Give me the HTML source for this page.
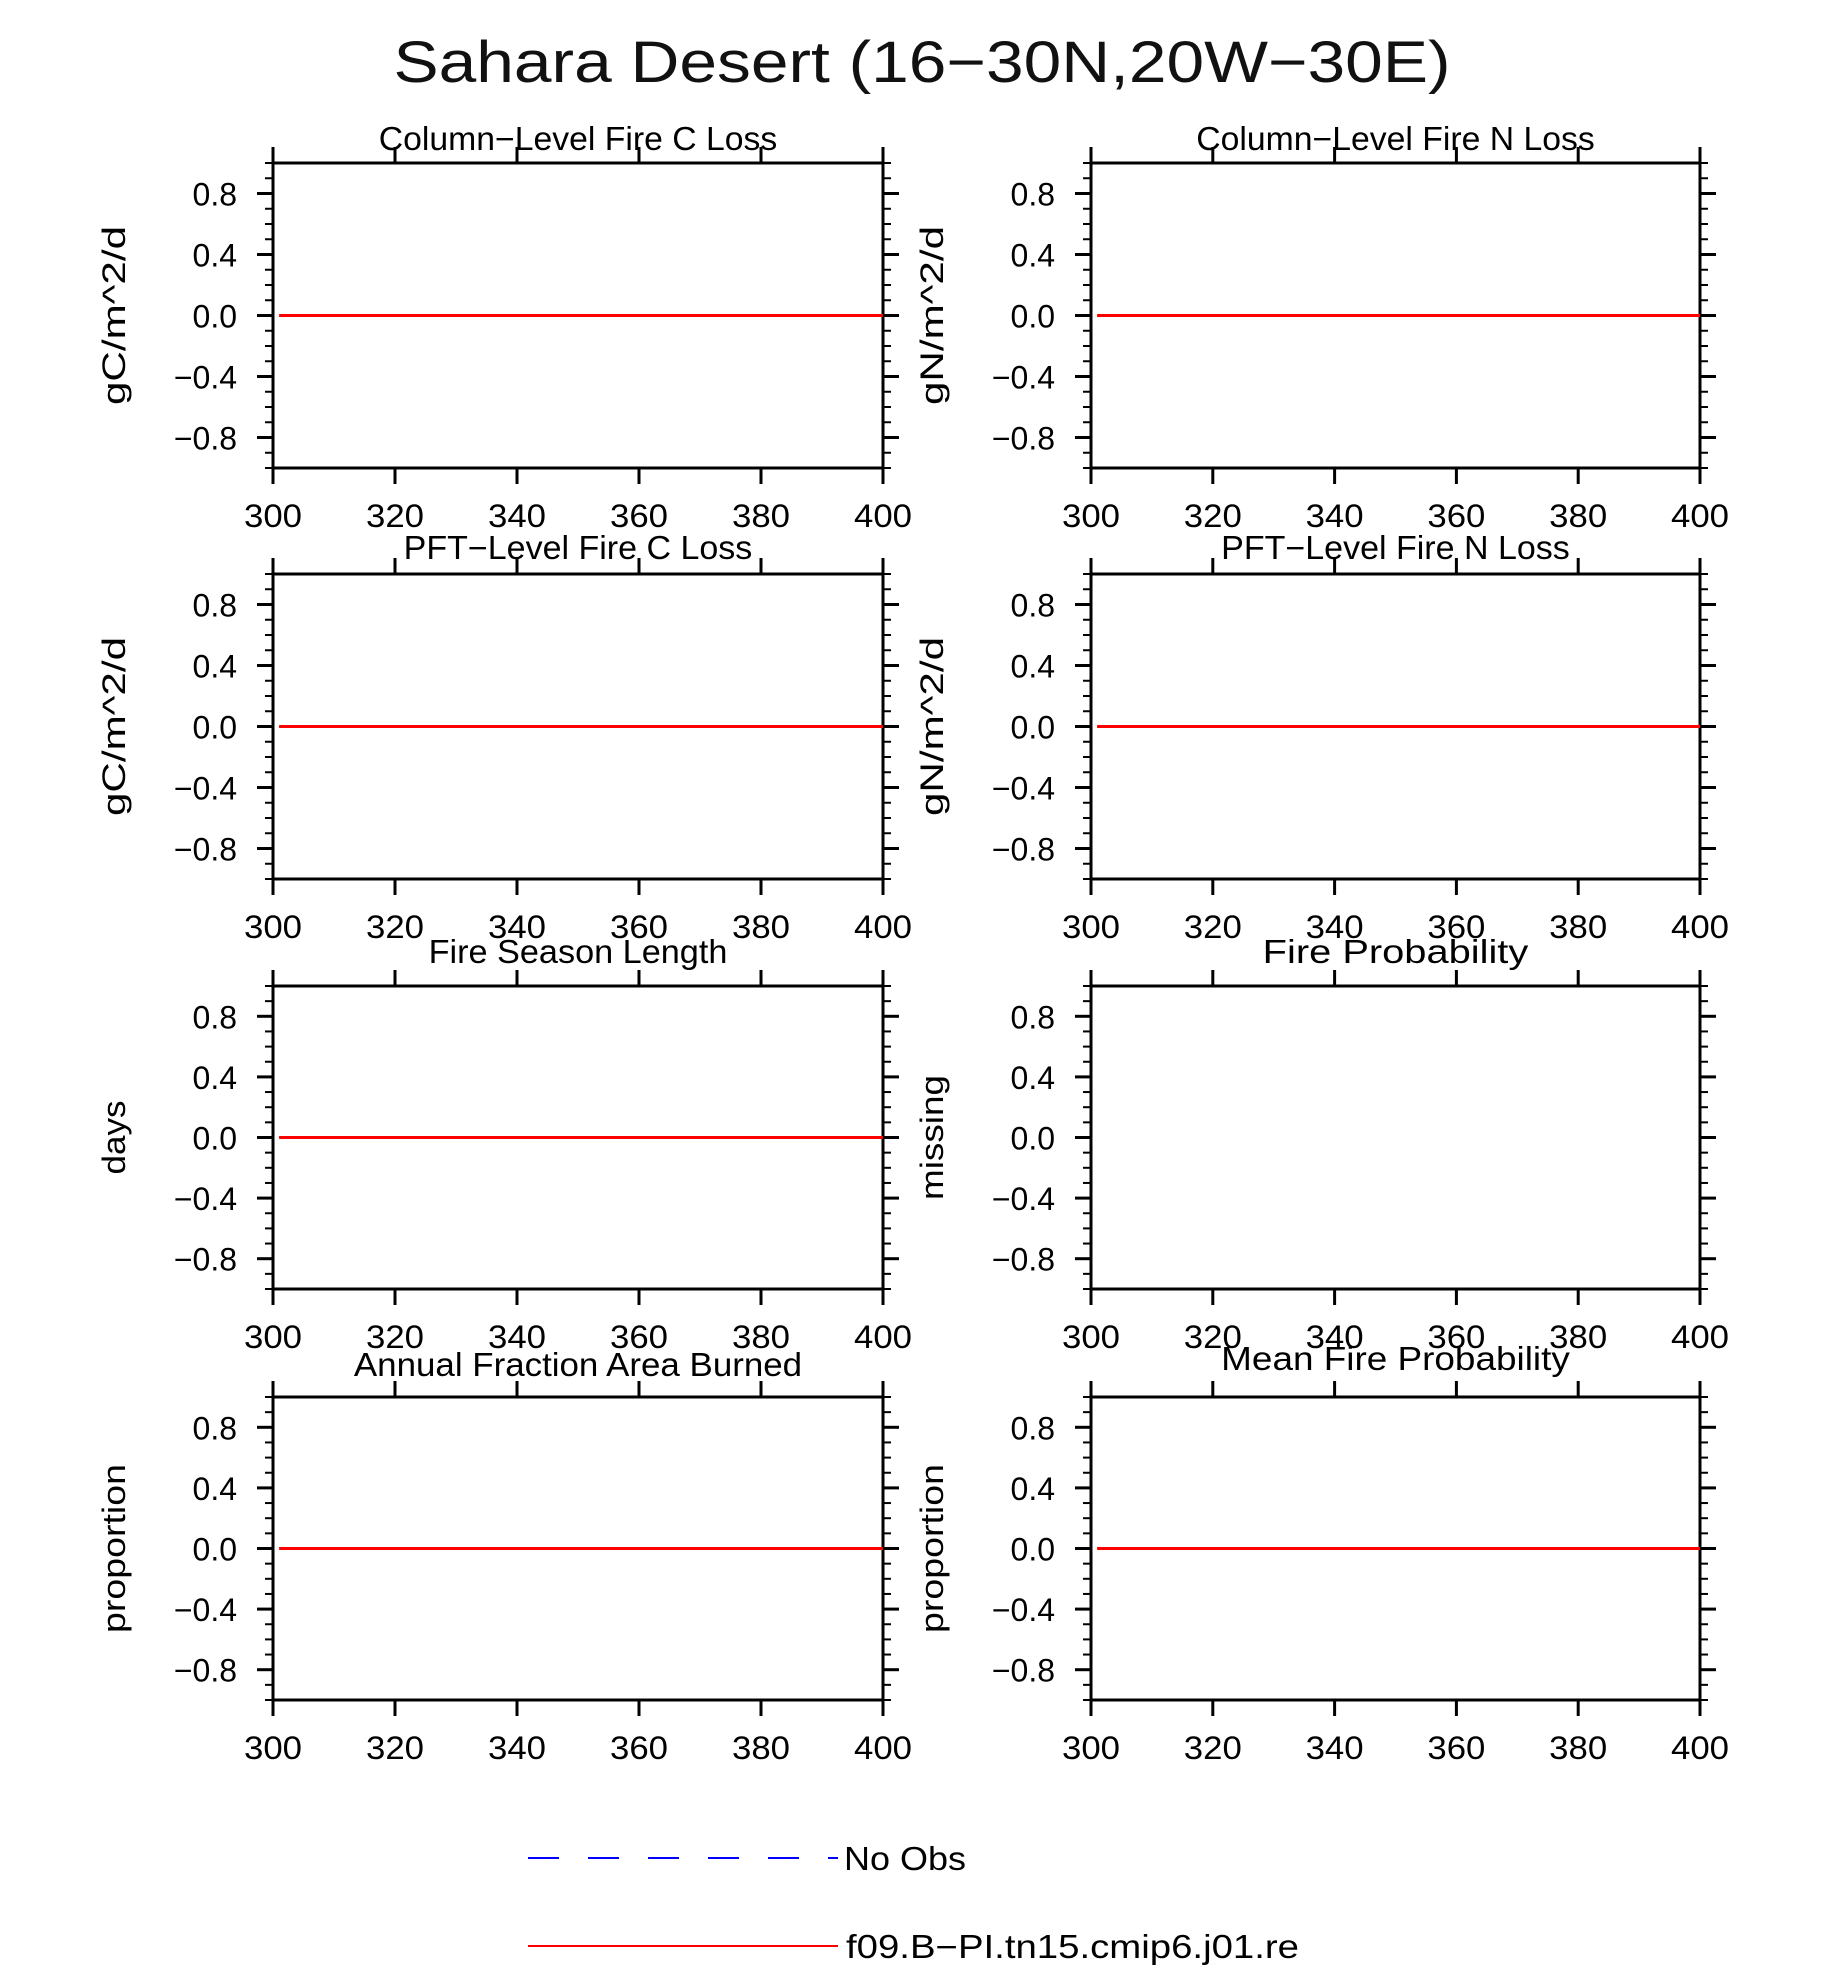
<!DOCTYPE html>
<html><head><meta charset="utf-8">
<style>
html,body{margin:0;padding:0;background:#fff;}
svg{display:block;}
text{font-family:"Liberation Sans Narrow","Liberation Sans",sans-serif;fill:#000;}
</style></head>
<body>
<svg id="fig" width="1836" height="1966" viewBox="0 0 1836 1966" xmlns="http://www.w3.org/2000/svg">
<text x="922" y="82" font-size="58" text-anchor="middle" textLength="1057" lengthAdjust="spacingAndGlyphs" style="fill:#111">Sahara Desert (16−30N,20W−30E)</text>
<g>
<line x1="528" y1="1858" x2="838" y2="1858" stroke="#0000ff" stroke-width="2" stroke-dasharray="31,29"/>
<text x="844" y="1870" font-size="33" textLength="122" lengthAdjust="spacingAndGlyphs">No Obs</text>
<line x1="528" y1="1946" x2="838" y2="1946" stroke="#ff0000" stroke-width="2"/>
<text x="846" y="1958" font-size="33" textLength="453" lengthAdjust="spacingAndGlyphs">f09.B−PI.tn15.cmip6.j01.re</text>
</g>
</svg>
<script>
const panelTitles = ["Column−Level Fire C Loss","Column−Level Fire N Loss","PFT−Level Fire C Loss","PFT−Level Fire N Loss","Fire Season Length","Fire Probability","Annual Fraction Area Burned","Mean Fire Probability"];
const yTitles = ["gC/m^2/d","gN/m^2/d","gC/m^2/d","gN/m^2/d","days","missing","proportion","proportion"];
const xTickVals = [300,320,340,360,380,400];
const yTickVals = [-0.8,-0.4,0.0,0.4,0.8];
const yTickLabels = ["−0.8","−0.4","0.0","0.4","0.8"];
const seriesX = [301,400];
const seriesY = [
  [0,0],[0,0],[0,0],[0,0],[0,0],null,[0,0],[0,0]
];
const colL = [273,883], colR = [1091,1700];
const rows = [[163,468],[574,879],[986,1289],[1397,1700]];
const titleBase = [150,150,559,559,963,963,1376,1370];
const yTitleLen = [179,179,179,179,74,125,169,169];
const NS = "http://www.w3.org/2000/svg";
const svg = document.getElementById('fig');
function mk(tag, attrs, parent){
  const e = document.createElementNS(NS, tag);
  for (const k in attrs) e.setAttribute(k, attrs[k]);
  parent.appendChild(e); return e;
}
for (let p=0;p<8;p++){
  const c = p%2===0?colL:colR, r = rows[Math.floor(p/2)];
  const x0=c[0], x1=c[1], yT=r[0], yB=r[1];
  const sx = v => x0 + (v-300)/(400-300)*(x1-x0);
  const sy = v => yB - (v-(-1))/(2)*(yB-yT);
  const g = mk('g',{},svg);
  
  
  const fr = mk('rect',{x:x0,y:yT,width:x1-x0,height:yB-yT,fill:'none',stroke:'#000','stroke-width':3},g);
  
  
  for (let i=-10;i<=10;i++){
    const v=i/10, y=sy(v);
    const major = yTickVals.some(t=>Math.abs(t-v)<1e-6);
    const len = major?16:8, w = major?3:2;
    const tl = mk('line',{x1:x0-len,y1:y,x2:x0,y2:y,stroke:'#000','stroke-width':w},g);
    
    
    const tr = mk('line',{x1:x1,y1:y,x2:x1+len,y2:y,stroke:'#000','stroke-width':w},g);
    
    
  }
  yTickVals.forEach((v,i)=>{
    const t = mk('text',{x:x0-36,y:sy(v)+12,'font-size':32,'text-anchor':'end'},g);
    
    
    t.textContent = yTickLabels[i];
  });
  xTickVals.forEach(v=>{
    const x=sx(v);
    const tb = mk('line',{x1:x,y1:yB,x2:x,y2:yB+16,stroke:'#000','stroke-width':3},g);
    
    
    const tt = mk('line',{x1:x,y1:yT-16,x2:x,y2:yT,stroke:'#000','stroke-width':3},g);
    
    
    const t = mk('text',{x:x,y:yB+59,'font-size':32,'text-anchor':'middle',textLength:58,lengthAdjust:'spacingAndGlyphs'},g);
    
    
    t.textContent = String(v);
  });
  const pt = mk('text',{x:(x0+x1)/2,y:titleBase[p],'font-size':33,'text-anchor':'middle',textLength:panelTitles[p].length*16.6,lengthAdjust:'spacingAndGlyphs'},g);
  
  
  pt.textContent = panelTitles[p];
  const yc = (yT+yB)/2, xc = x0-148;
  const yt = mk('text',{x:xc,y:yc,'font-size':32,'text-anchor':'middle',transform:`rotate(-90 ${xc} ${yc})`,textLength:yTitleLen[p],lengthAdjust:'spacingAndGlyphs'},g);
  
  
  yt.textContent = yTitles[p];
  if (seriesY[p]){
    const pts = seriesX.map((xv,i)=>sx(xv)+','+sy(seriesY[p][i])).join(' ');
    const pl = mk('polyline',{points:pts,fill:'none',stroke:'#ff0000','stroke-width':3},g);
    
    
  }
}
</script>
</body></html>
